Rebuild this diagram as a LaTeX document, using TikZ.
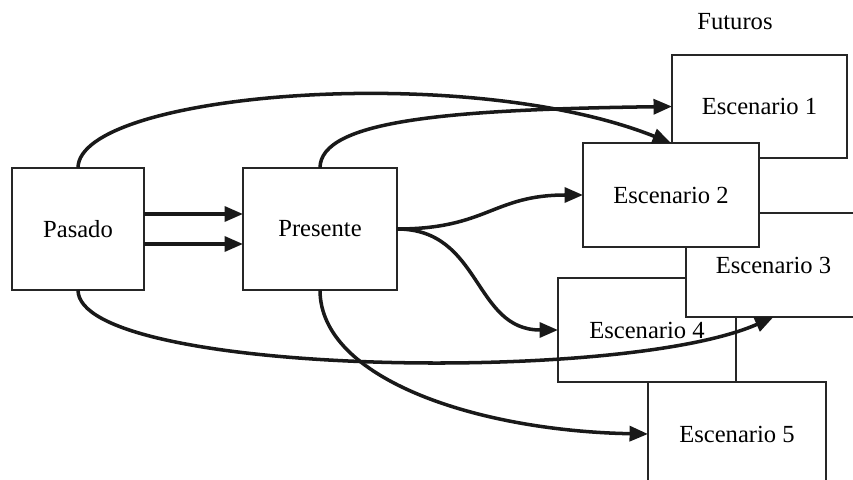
\documentclass[tikz,border=0pt]{standalone}
\usepackage{fontspec}
\setmainfont{Liberation Serif}
\usetikzlibrary{arrows.meta}

\tikzset{
  caja/.style={draw=black!85, line width=0.8pt, fill=white, inner sep=0pt, outer sep=0pt,
               font=\fontsize{14}{16}\selectfont},
  flecha/.style={line width=2pt, black!90, -{Triangle[length=10.5pt,width=8.5pt]}}
}

\begin{document}
\begin{tikzpicture}[x=0.02cm,y=-0.02cm]
   \clip (0,0) rectangle (853,480);
   \node[caja, minimum width=2.64cm, minimum height=2.44cm] (pasado)   at (78,229)  {Pasado};
   \node[caja, minimum width=3.08cm, minimum height=2.44cm] (presente) at (320,229) {Presente};
   \node[font=\fontsize{14}{16}\selectfont] (futuros) at (735,22) {Futuros};
   % escenarios, en el orden en que se tapan
   \node[caja, minimum width=3.5cm,  minimum height=2.06cm] (esc1) at (759.5,106.5) {Escenario 1};
   \node[caja, minimum width=3.56cm, minimum height=2.08cm] (esc4) at (647,330)     {Escenario 4};
   \node[caja, minimum width=3.56cm, minimum height=2.08cm] (esc5) at (737,434)     {Escenario 5};
   \node[caja, minimum width=3.5cm,  minimum height=2.08cm] (esc3) at (773.5,265)   {Escenario 3};
   \node[caja, minimum width=3.52cm, minimum height=2.08cm] (esc2) at (671,195)     {Escenario 2};
   % flechas
   \draw[flecha] ([yshift=0.3cm]pasado.east) -- ([yshift=0.3cm]presente.west);
   \draw[flecha] ([yshift=-0.3cm]pasado.east) -- ([yshift=-0.3cm]presente.west);
   \draw[flecha] (pasado.north) .. controls +(0,-75) and +(-205,-82) .. (esc2.north);
   \draw[flecha] (presente.north) .. controls +(0,-48) and +(-222,3) .. (esc1.west);
   \draw[flecha] (presente.east) .. controls +(90,0) and +(-90,0) .. (esc2.west);
   \draw[flecha] (presente.east) .. controls +(85,0) and +(-85,0) .. (esc4.west);
   \draw[flecha] (pasado.south) .. controls +(0,85) and +(-153,68) .. (esc3.south);
   \draw[flecha] (presente.south) .. controls +(0,90) and +(-168,-3) .. (esc5.west);
\end{tikzpicture}
\end{document}
